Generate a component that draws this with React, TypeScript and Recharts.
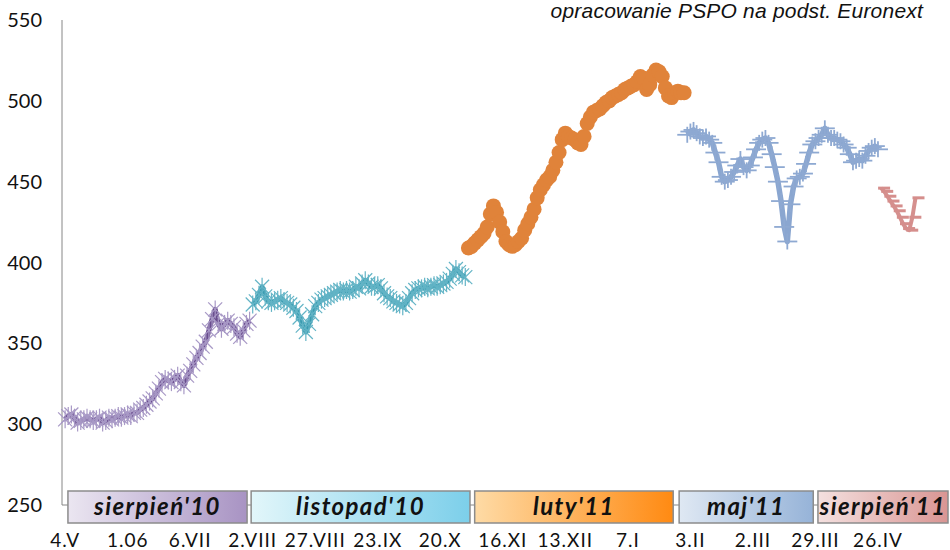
import React from 'react';
import { LineChart, Line, XAxis, YAxis, ReferenceArea } from 'recharts';

// trading-day index of each tick label
const tickIdx = [0, 20, 40, 60, 80, 100, 120, 140, 160, 180, 200, 220, 240, 260];
const tickLabels = ['4.V', '1.06', '6.VII', '2.VIII', '27.VIII', '23.IX', '20.X', '16.XI', '13.XII', '7.I', '3.II', '2.III', '29.III', '26.IV'];
const yTicks = [250, 300, 350, 400, 450, 500, 550];

// front contract prices (EUR/t), one value per trading day
const sierpien10Start = 0;
const sierpien10 = [
  303, 305, 306, 304, 301, 302, 303, 304, 303, 302, 303, 304, 301, 302, 304, 303, 304, 305, 304, 305,
  306, 305, 307, 307, 309, 310, 312, 314, 316, 319, 322, 326, 328, 327, 326, 328, 330, 326, 324, 330,
  333, 337, 341, 344, 348, 351, 358, 365, 371, 362, 359, 362, 364, 362, 360, 356, 354, 358, 362, 364,
];
const listopad10Start = 60;
const listopad10 = [
  374, 376, 380, 385, 379, 376, 375, 376, 377, 378, 376, 375, 374, 372, 370, 366, 361, 357, 362, 368,
  373, 375, 377, 378, 379, 380, 381, 382, 383, 382, 383, 382, 383, 385, 384, 387, 389, 387, 385, 385,
  386, 384, 381, 379, 378, 376, 375, 374, 373, 375, 378, 381, 383, 384, 384, 385, 384, 385, 386, 385,
  386, 387, 388, 390, 393, 396, 394, 392, 391,
];
const luty11Start = 129;
const luty11 = [
  409, 410, 412, 414, 416, 418, 422, 430, 435, 431, 425, 419, 413, 411, 410, 411, 413, 415, 420, 424,
  428, 433, 440, 445, 448, 451, 453, 457, 462, 468, 476, 480, 478, 477, 476, 474, 473, 478, 486, 490,
  493, 494, 495, 497, 499, 500, 502, 503, 504, 505, 507, 508, 509, 510, 512, 515, 514, 507, 510, 516,
  519, 518, 515, 508, 503, 502, 505, 506, 505, 505,
];
const maj11Start = 199;
const maj11 = [
  479, 481, 482, 480, 478, 477, 478, 476, 474, 468, 462, 453, 450, 451, 453, 456, 460, 464, 459, 457,
  460, 465, 470, 474, 476, 477, 474, 467, 459, 450, 438, 422, 413, 436, 447, 452, 453, 455, 461, 468,
  473, 475, 477, 479, 483, 479, 477, 477, 476, 475, 473, 471, 467, 462, 463, 464, 463, 466, 469, 471,
  472, 470,
];
const sierpien11Start = 261;
const sierpien11 = [446, 444, 441, 438, 435, 432, 428, 424, 421, 420, 428, 440];

// contract name boxes along the bottom
const boxLabels = ["sierpień'10", "listopad'10", "luty'11", "maj'11", "sierpień'11"];
const boxFrom = [0.9, 59.5, 131, 196.4, 240.8];
const boxTo = [58.2, 129.5, 194.5, 239.3, 282.4];
const boxColors = [
  ['#ebe6f1', '#a893c3'],
  ['#e2f6fa', '#7ccfea'],
  ['#fedba6', '#ff8a12'],
  ['#dfe8f3', '#96b3d8'],
  ['#f4e0df', '#d99593'],
];

const toRows = (start: number, vals: number[]) => vals.map((v, k) => ({ i: start + k, v }));

const starDot = (color: string, w: number) => (p: any) => {
  const { cx, cy, index } = p;
  if (cx == null || cy == null) return <g key={`n${index}`} />;
  return (
    <g key={`s${index}`} stroke={color} strokeWidth={w}>
      <line x1={cx - 7} y1={cy - 7} x2={cx + 7} y2={cy + 7} />
      <line x1={cx - 7} y1={cy + 7} x2={cx + 7} y2={cy - 7} />
      <line x1={cx} y1={cy - 9} x2={cx} y2={cy + 9} />
    </g>
  );
};

const plusDot = (p: any) => {
  const { cx, cy, index } = p;
  if (cx == null || cy == null) return <g key={`n${index}`} />;
  return (
    <g key={`p${index}`} stroke="#8ea9d2" strokeWidth={1.8}>
      <line x1={cx - 10} y1={cy} x2={cx + 10} y2={cy} />
      <line x1={cx} y1={cy - 8} x2={cx} y2={cy + 8} />
    </g>
  );
};

const dashDot = (p: any) => {
  const { cx, cy, index } = p;
  if (cx == null || cy == null) return <g key={`n${index}`} />;
  return <line key={`d${index}`} x1={cx - 3} y1={cy} x2={cx + 9} y2={cy} stroke="#d58e8c" strokeWidth={3} />;
};

const circleDot = (p: any) => {
  const { cx, cy, index } = p;
  if (cx == null || cy == null) return <g key={`n${index}`} />;
  return <circle key={`c${index}`} cx={cx} cy={cy} r={7.5} fill="#e0833a" />;
};

const series = [
  { data: toRows(sierpien10Start, sierpien10), line: '#6a4d8e', width: 5, dot: starDot('#a899c6', 1.2) },
  { data: toRows(listopad10Start, listopad10), line: '#3a9bb0', width: 5, dot: starDot('#63b4c6', 1.2) },
  { data: toRows(luty11Start, luty11), line: '#e0833a', width: 4, dot: circleDot },
  { data: toRows(maj11Start, maj11), line: '#8aa6d0', width: 5.5, dot: plusDot },
  { data: toRows(sierpien11Start, sierpien11), line: '#d5908e', width: 4, dot: dashDot },
];

export default function App() {
  return (
    <div style={{ position: 'absolute', left: 0, top: 0, width: 950, height: 550, background: '#fff' }}>
      <div
        style={{
          position: 'absolute',
          right: 27,
          top: 0,
          fontFamily: '"Liberation Sans", Arial, sans-serif',
          fontStyle: 'italic',
          fontSize: 21,
          lineHeight: '21px',
          color: '#111',
          whiteSpace: 'nowrap',
          letterSpacing: 0.2,
          zIndex: 2,
        }}
      >
        opracowanie PSPO na podst. Euronext
      </div>
      <LineChart width={950} height={550} margin={{ top: 20, right: 2, bottom: 0, left: 0 }}>
        <defs>
          {boxColors.map((c, k) => (
            <linearGradient key={k} id={`box${k}`} x1="0" y1="0" x2="1" y2="0">
              <stop offset="0%" stopColor={c[0]} />
              <stop offset="100%" stopColor={c[1]} />
            </linearGradient>
          ))}
        </defs>
        <XAxis
          type="number"
          dataKey="i"
          domain={[-1, 282.4]}
          ticks={tickIdx}
          interval={0}
          tickFormatter={(v: number) => tickLabels[tickIdx.indexOf(v)] ?? ''}
          height={45}
          tickLine={false}
          tickMargin={23}
          axisLine={{ stroke: '#868686' }}
          tick={{ fontFamily: 'Lato', fontSize: 19, fill: '#111', letterSpacing: 1 }}
        />
        <YAxis
          type="number"
          domain={[250, 550]}
          ticks={yTicks}
          width={62}
          tickLine={false}
          tickMargin={14}
          axisLine={{ stroke: '#868686' }}
          tick={{ fontFamily: 'Lato', fontSize: 20, fill: '#111' }}
        />
        {series.map((s, k) => (
          <Line
            key={`m${k}`}
            data={s.data}
            dataKey="v"
            stroke="none"
            dot={s.dot}
            activeDot={false}
            isAnimationActive={false}
          />
        ))}
        {series.map((s, k) => (
          <Line
            key={`l${k}`}
            data={s.data}
            dataKey="v"
            stroke={s.line}
            strokeWidth={s.width}
            strokeLinejoin="round"
            dot={false}
            activeDot={false}
            isAnimationActive={false}
          />
        ))}
        {boxLabels.map((lab, k) => (
          <ReferenceArea
            key={`b${k}`}
            x1={boxFrom[k]}
            x2={boxTo[k]}
            y1={238.9}
            y2={258.7}
            ifOverflow="visible"
            fill={`url(#box${k})`}
            fillOpacity={1}
            stroke="#8c8c8c"
            strokeWidth={1.5}
            zIndex={1000}
            label={{
              value: lab,
              position: 'center',
              fill: '#111',
              fontSize: 24,
              fontWeight: 700,
              fontStyle: 'italic',
              fontFamily: 'Lato',
              letterSpacing: 1.4,
            }}
          />
        ))}
      </LineChart>
    </div>
  );
}
